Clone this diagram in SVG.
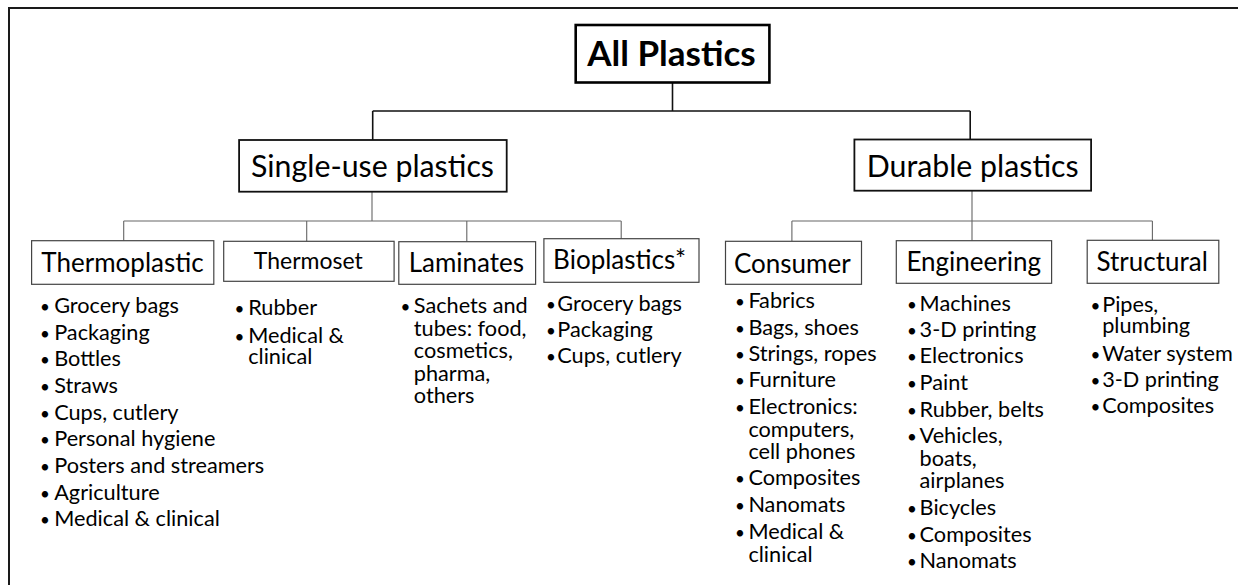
<svg xmlns="http://www.w3.org/2000/svg" width="1238" height="585" viewBox="0 0 1238 585">
<style>
text{font-family:Lato,"Open Sans","Liberation Sans",sans-serif;fill:#000}
.root{fill:#fff;stroke:#000;stroke-width:2.6}
.l2{fill:#fff;stroke:#111;stroke-width:1.8}
.l3{fill:#fff;stroke:#444;stroke-width:1.2}
.t1{font-size:35px;font-weight:bold;text-anchor:middle}
.t2{font-size:30.3px;text-anchor:middle}
.t3{font-size:26px;text-anchor:middle}
.li{font-size:21.7px}
.bu{font-size:17px}
.con path{fill:none;stroke:#666;stroke-width:1.1}
</style>
<rect x="9" y="8" width="1400" height="700" fill="#fff" stroke="#1a1a1a" stroke-width="2"/>
<g class="con">
<path d="M672.5 83V111M372.7 111H970.2M372.7 111V140M970.2 111V139.5" style="stroke:#111;stroke-width:1.6"/>
<path d="M372 191.7V221M123.7 221H621.2M123.7 221V240.7M306.7 221V241.3M466.8 221V241.7M621.2 221V238.7"/>
<path d="M972 190.7V240.7M791.9 221H1152.4M791.9 221V241.3M1152.4 221V240.3"/>
</g>
<g id="all-plastics">
<rect class="root" x="575.7" y="25" width="193.7" height="57.5"/>
<text class="t1" x="671.5" y="66">All Plastics</text>
</g>
<g id="single-use">
<rect class="l2" x="239.1" y="140" width="267.6" height="51.7"/>
<text class="t2" x="372.5" y="177">Single-use plastics</text>
</g>
<g id="durable">
<rect class="l2" x="854.4" y="139.5" width="236.7" height="51.2"/>
<text class="t2" x="972.7" y="176.5">Durable plastics</text>
</g>
<g id="thermoplastic">
<rect class="l3" x="31.6" y="240.7" width="182.2" height="43.6"/>
<text class="t3" x="122.5" y="272">Thermoplastic</text>
<g class="li">
<text class="bu" x="40" y="313">•</text><text x="54.2" y="313">Grocery bags</text>
<text class="bu" x="40" y="339.7">•</text><text x="54.2" y="339.7">Packaging</text>
<text class="bu" x="40" y="366.3">•</text><text x="54.2" y="366.3">Bottles</text>
<text class="bu" x="40" y="393">•</text><text x="54.2" y="393">Straws</text>
<text class="bu" x="40" y="419.7">•</text><text x="54.2" y="419.7">Cups, cutlery</text>
<text class="bu" x="40" y="446.3">•</text><text x="54.2" y="446.3">Personal hygiene</text>
<text class="bu" x="40" y="473">•</text><text x="54.2" y="473">Posters and streamers</text>
<text class="bu" x="40" y="499.7">•</text><text x="54.2" y="499.7">Agriculture</text>
<text class="bu" x="40" y="526.3">•</text><text x="54.2" y="526.3">Medical &amp; clinical</text>
</g>
</g>
<g id="thermoset">
<rect class="l3" x="223.7" y="241.3" width="170.4" height="40"/>
<text class="t3" x="308.3" y="268.5" style="font-size:23px">Thermoset</text>
<g class="li">
<text class="bu" x="234.5" y="315">•</text><text x="248.2" y="315">Rubber</text>
<text class="bu" x="234.5" y="342.7">•</text><text x="248.2" y="342.7">Medical &amp;</text>
<text x="248.2" y="364.3">clinical</text>
</g>
</g>
<g id="laminates">
<rect class="l3" x="398.8" y="241.7" width="136.8" height="42.6"/>
<text class="t3" x="466.4" y="272">Laminates</text>
<g class="li">
<text class="bu" x="400.5" y="313.3">•</text><text x="413.8" y="313.3">Sachets and</text>
<text x="413.8" y="335.5">tubes: food,</text>
<text x="413.8" y="358">cosmetics,</text>
<text x="413.8" y="380.5">pharma,</text>
<text x="413.8" y="403">others</text>
</g>
</g>
<g id="bioplastics">
<rect class="l3" x="543.9" y="238.7" width="155.1" height="43.6"/>
<text class="t3" x="619.6" y="269">Bioplastics*</text>
<g class="li">
<text class="bu" x="546" y="311">•</text><text x="557.3" y="311">Grocery bags</text>
<text class="bu" x="546" y="337.3">•</text><text x="557.3" y="337.3">Packaging</text>
<text class="bu" x="546" y="363.3">•</text><text x="557.3" y="363.3">Cups, cutlery</text>
</g>
</g>
<g id="consumer">
<rect class="l3" x="725.5" y="241.3" width="136" height="43"/>
<text class="t3" x="792.3" y="273">Consumer</text>
<g class="li">
<text class="bu" x="735" y="308.3">•</text><text x="748.4" y="308.3">Fabrics</text>
<text class="bu" x="735" y="335">•</text><text x="748.4" y="335">Bags, shoes</text>
<text class="bu" x="735" y="361">•</text><text x="748.4" y="361">Strings, ropes</text>
<text class="bu" x="735" y="386.7">•</text><text x="748.4" y="386.7">Furniture</text>
<text class="bu" x="735" y="413.7">•</text><text x="748.4" y="413.7">Electronics:</text>
<text x="748.4" y="436.7">computers,</text>
<text x="748.4" y="459.3">cell phones</text>
<text class="bu" x="735" y="485.3">•</text><text x="748.4" y="485.3">Composites</text>
<text class="bu" x="735" y="512">•</text><text x="748.4" y="512">Nanomats</text>
<text class="bu" x="735" y="539">•</text><text x="748.4" y="539">Medical &amp;</text>
<text x="748.4" y="561.7">clinical</text>
</g>
</g>
<g id="engineering">
<rect class="l3" x="896.3" y="240.7" width="155.3" height="42.6"/>
<text class="t3" x="973.7" y="271">Engineering</text>
<g class="li">
<text class="bu" x="907" y="310.7">•</text><text x="919.6" y="310.7">Machines</text>
<text class="bu" x="907" y="337.3">•</text><text x="919.6" y="337.3">3-D printing</text>
<text class="bu" x="907" y="363.3">•</text><text x="919.6" y="363.3">Electronics</text>
<text class="bu" x="907" y="390">•</text><text x="919.6" y="390">Paint</text>
<text class="bu" x="907" y="416.7">•</text><text x="919.6" y="416.7">Rubber, belts</text>
<text class="bu" x="907" y="443.3">•</text><text x="919.6" y="443.3">Vehicles,</text>
<text x="919.6" y="465.7">boats,</text>
<text x="919.6" y="488.3">airplanes</text>
<text class="bu" x="907" y="515">•</text><text x="919.6" y="515">Bicycles</text>
<text class="bu" x="907" y="541.7">•</text><text x="919.6" y="541.7">Composites</text>
<text class="bu" x="907" y="568.3">•</text><text x="919.6" y="568.3">Nanomats</text>
</g>
</g>
<g id="structural">
<rect class="l3" x="1087.2" y="240.3" width="131.6" height="43"/>
<text class="t3" x="1152.2" y="271">Structural</text>
<g class="li">
<text class="bu" x="1090.5" y="311.7">•</text><text x="1102.2" y="311.7">Pipes,</text>
<text x="1102.2" y="333.3">plumbing</text>
<text class="bu" x="1090.5" y="360.7">•</text><text x="1102.2" y="360.7">Water system</text>
<text class="bu" x="1090.5" y="386.7">•</text><text x="1102.2" y="386.7">3-D printing</text>
<text class="bu" x="1090.5" y="413.3">•</text><text x="1102.2" y="413.3">Composites</text>
</g>
</g>
</svg>
